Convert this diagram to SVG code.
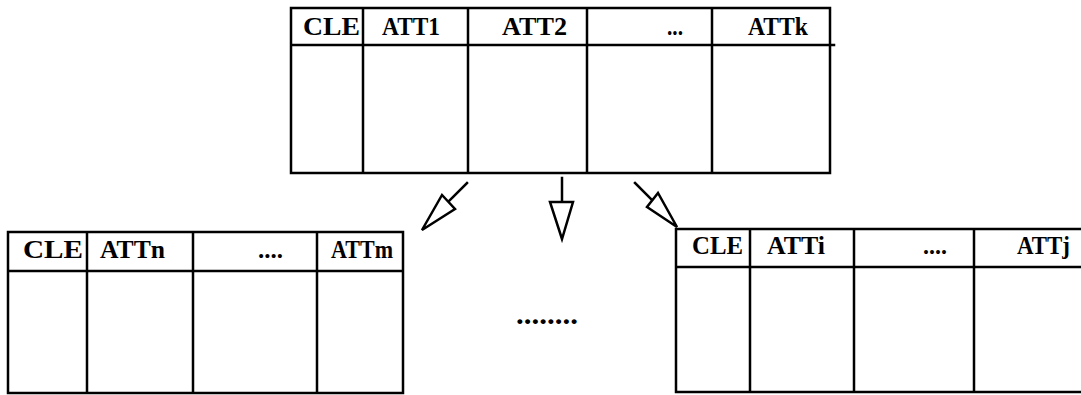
<svg xmlns="http://www.w3.org/2000/svg" width="1081" height="395" viewBox="0 0 1081 395">
<style>
.ln{stroke:#000;stroke-width:2.5;fill:none;stroke-linecap:square}
.t{font-family:"Liberation Serif","Times New Roman",serif;font-weight:bold;font-size:25px;fill:#000}
.head{fill:#fff;stroke:#000;stroke-width:2.5;stroke-linejoin:miter}
</style>
<rect width="1081" height="395" fill="#fff"/>
<g id="table-top">
  <path class="ln" d="M291,8 H830 V173 H291 Z M291,45 H834 M363,8 V173 M468,8 V173 M587,8 V173 M712,8 V173"/>
  <text class="t" x="303" y="35" textLength="57" lengthAdjust="spacingAndGlyphs">CLE</text>
  <text class="t" x="382" y="35" textLength="58" lengthAdjust="spacingAndGlyphs">ATT1</text>
  <text class="t" x="502" y="35" textLength="65" lengthAdjust="spacingAndGlyphs">ATT2</text>
  <text class="t" x="667" y="35" textLength="16" lengthAdjust="spacingAndGlyphs">...</text>
  <text class="t" x="748" y="35" textLength="60" lengthAdjust="spacingAndGlyphs">ATTk</text>
</g>
<g id="table-left">
  <path class="ln" d="M8,232 H403 V393 H8 Z M8,271 H403 M87,232 V393 M193,232 V393 M317,232 V393"/>
  <text class="t" x="23" y="258" textLength="60" lengthAdjust="spacingAndGlyphs">CLE</text>
  <text class="t" x="100" y="258" textLength="65" lengthAdjust="spacingAndGlyphs">ATTn</text>
  <text class="t" x="258" y="258" textLength="25" lengthAdjust="spacingAndGlyphs">....</text>
  <text class="t" x="331" y="258" textLength="62" lengthAdjust="spacingAndGlyphs">ATTm</text>
</g>
<g id="table-right">
  <path class="ln" d="M1090,229 H676 V392 H1090 M676,267 H1090 M750,229 V392 M854,229 V392 M974,229 V392"/>
  <text class="t" x="692" y="254" textLength="51" lengthAdjust="spacingAndGlyphs">CLE</text>
  <text class="t" x="767" y="254" textLength="58" lengthAdjust="spacingAndGlyphs">ATTi</text>
  <text class="t" x="923" y="254" textLength="24" lengthAdjust="spacingAndGlyphs">....</text>
  <text class="t" x="1017" y="254" textLength="53" lengthAdjust="spacingAndGlyphs">ATTj</text>
</g>
<g id="ellipsis">
  <text class="t" x="516" y="324" style="font-size:30px" textLength="62" lengthAdjust="spacingAndGlyphs">........</text>
</g>
<g id="connectors">
  <line class="ln" x1="467" y1="183" x2="448" y2="202"/>
  <polygon class="head" points="422,230 442,195 455,209"/>
  <line class="ln" x1="562" y1="178" x2="562" y2="202"/>
  <polygon class="head" points="562,239 550,202 573,202"/>
  <line class="ln" x1="635" y1="183" x2="652" y2="200"/>
  <polygon class="head" points="677,227 647,207 658,193"/>
</g>
</svg>
